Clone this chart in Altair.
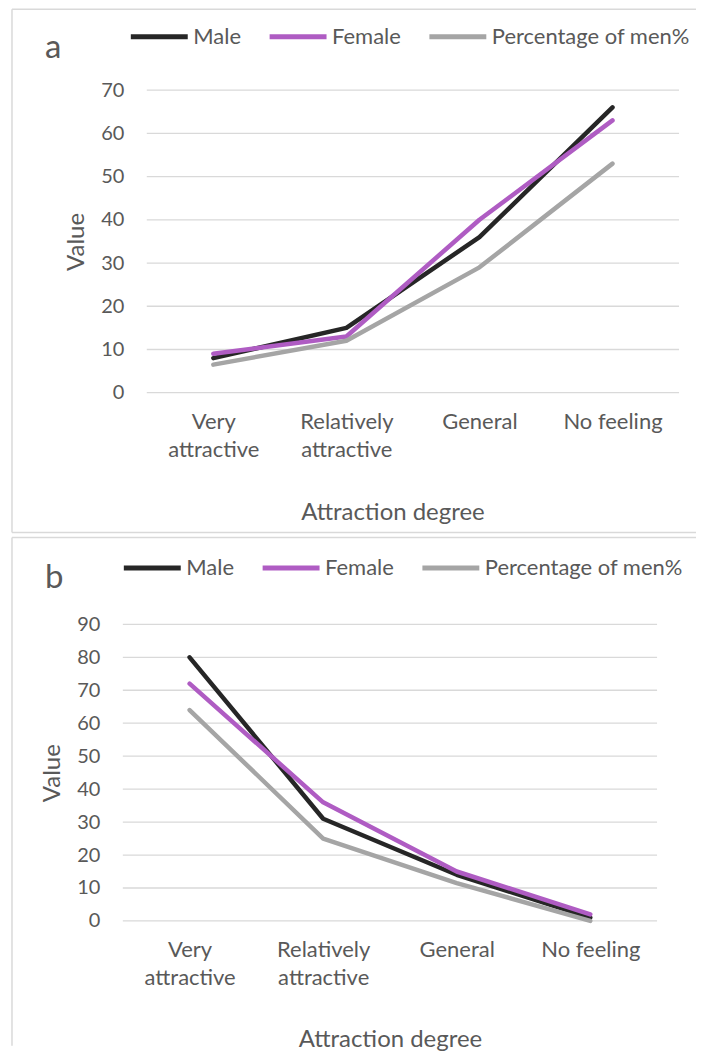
import altair as alt
import pandas as pd

categories = ["Very attractive", "Relatively attractive", "General", "No feeling"]
series = ["Male", "Female", "Percentage of men%"]
colors = ["#262626", "#AF5CC3", "#A5A5A5"]

a_male = [8, 15, 36, 66]
a_female = [9, 13, 40, 63]
a_pct = [6.5, 12, 29, 53]

b_male = [80, 31, 14, 1]
b_female = [72, 36, 15, 2]
b_pct = [64, 25, 11.5, 0]

a_ticks = [0, 10, 20, 30, 40, 50, 60, 70]
b_ticks = [0, 10, 20, 30, 40, 50, 60, 70, 80, 90]

FONT = "Lato"
TXT = "#595959"
GRID = "#D9D9D9"


def make_df(m, f, p):
    rows = []
    for name, vals in zip(series, [m, f, p]):
        for c, v in zip(categories, vals):
            rows.append({"cat": c, "series": name, "value": v})
    return pd.DataFrame(rows)


def panel(df, ticks, w, h, x0, letter, box, legend_xy, letter_xy, with_bottom, title_x, title_pad):
    left, top, right, bottom = box
    one = alt.Data(values=[{"t": letter}])
    yscale = alt.Scale(domain=[ticks[0], ticks[-1]], nice=False)
    yaxis = alt.Axis(values=ticks, labelFontSize=20, labelFont=FONT, labelColor=TXT,
                     labelPadding=23, ticks=False, domain=False, grid=False, offset=-x0,
                     titleFontSize=24, titleFont=FONT, titleColor=TXT, titleFontWeight="normal",
                     titlePadding=12)
    xaxis = dict(labelAngle=0, labelFontSize=22, labelFont=FONT, labelColor=TXT,
                 labelPadding=19, labelLineHeight=28, ticks=False, domain=False,
                 titleFontSize=24, titleFont=FONT, titleColor=TXT, titleFontWeight="normal",
                 titlePadding=title_pad, labelLimit=300,
                 labelExpr="datum.value == 'No feeling' || datum.value == 'General' ? datum.value : split(datum.value, ' ')")
    if title_x is not None:
        xaxis["titleX"] = title_x
    grid = alt.Chart(pd.DataFrame({"value": ticks})).mark_rule(color=GRID, strokeWidth=1.3).encode(
        y=alt.Y("value:Q", title="Value", scale=yscale, axis=yaxis),
        x=alt.value(x0), x2=alt.value(w))
    lines = alt.Chart(df).mark_line(strokeWidth=4.5, strokeCap="round", strokeJoin="round").encode(
        x=alt.X("cat:N", sort=categories, title="Attraction degree",
                scale=alt.Scale(range=[x0, w], padding=0.5),
                axis=alt.Axis(**xaxis)),
        y=alt.Y("value:Q", title="Value", scale=yscale, axis=yaxis),
        color=alt.Color("series:N", sort=series,
                        scale=alt.Scale(domain=series, range=colors),
                        legend=alt.Legend(orient="none", legendX=legend_xy[0], legendY=legend_xy[1],
                                          direction="horizontal", title=None, symbolType="stroke",
                                          symbolSize=3249, symbolStrokeWidth=5, labelFontSize=22,
                                          labelFont=FONT, labelColor=TXT, columnPadding=18,
                                          labelOffset=3, labelLimit=400)),
        order=alt.Order("series_order:Q"),
    ).transform_calculate(
        series_order="indexof(['Male','Female','Percentage of men%'], datum.series)"
    )
    rules = [
        alt.Chart(one).mark_rule(color=GRID, strokeWidth=1.5).encode(
            x=alt.value(left), x2=alt.value(right), y=alt.value(top)),
        alt.Chart(one).mark_rule(color=GRID, strokeWidth=1.5).encode(
            x=alt.value(left), y=alt.value(top), y2=alt.value(bottom)),
    ]
    if with_bottom:
        rules.append(alt.Chart(one).mark_rule(color=GRID, strokeWidth=1.5).encode(
            x=alt.value(left), x2=alt.value(right), y=alt.value(bottom)))
    lab = alt.Chart(one).mark_text(fontSize=33, font=FONT, color=TXT, align="left", baseline="middle").encode(
        x=alt.value(letter_xy[0]), y=alt.value(letter_xy[1]), text="t:N")
    return alt.layer(*rules, grid, lines, lab).properties(width=w, height=h)


dfa = make_df(a_male, a_female, a_pct)
dfb = make_df(b_male, b_female, b_pct)

# both panels share the same plot origin (page x = 122)
pa = panel(dfa, a_ticks, 557, 303, 24, "a", (-111, -81, 574, 443), (5.5, -84.5), (-78, -42), True, 270, 40)
pb = panel(dfb, b_ticks, 535, 297, 0, "b", (-111, -87, 574, 422), (-1.5, -87.5), (-78, -46), False, None, 39)

chart = alt.vconcat(pa, pb, spacing=3).resolve_scale(
    color="independent", x="independent", y="independent"
).resolve_legend(color="independent").properties(
    padding={"left": 3, "top": -3.5, "right": 0, "bottom": 0}, background="white"
).configure_view(stroke=None)

chart.save("out.html", embed_options={"renderer": "svg", "actions": False})
